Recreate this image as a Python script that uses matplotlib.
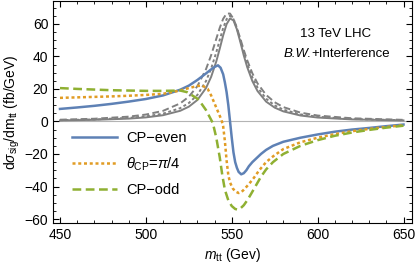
import matplotlib
matplotlib.use("Agg")
import matplotlib.pyplot as plt
from matplotlib.ticker import MultipleLocator

plt.rcParams['font.family'] = ['Liberation Sans', 'DejaVu Sans']
plt.rcParams['mathtext.fontset'] = 'custom'
plt.rcParams['mathtext.rm'] = 'Liberation Sans'
plt.rcParams['mathtext.it'] = 'Liberation Sans:italic'
plt.rcParams['mathtext.bf'] = 'Liberation Sans:bold'

# ---- data ----
m_even = [450, 460, 470, 480, 490, 500, 510, 520, 525, 530, 535, 538, 540, 542,
          543.5, 545, 546, 547, 548, 549, 550, 551, 552, 553, 554, 555.5, 557,
          558.5, 560, 562, 564.5, 567, 570, 574, 580, 590, 600, 610, 620, 630, 640, 650]
y_even = [7.7, 8.6, 9.6, 10.8, 12.2, 13.8, 16, 19.5, 22, 25.5, 29.5, 32, 33.5, 34.5,
          33, 29, 24, 18, 10, 0, -10, -19, -25, -28.5, -31, -32.5, -31.8,
          -30, -27.5, -25, -22.5, -20, -17.5, -15, -12.5, -10, -8, -6.3, -5, -4, -2.9, -1.9]

m_mix = [450, 460, 470, 480, 490, 500, 510, 520, 525, 530, 533, 536, 538, 540, 542,
         544, 545, 546, 547, 548, 549, 550.5, 552, 554, 555.5, 557, 560, 563, 566,
         570, 574, 580, 590, 600, 610, 620, 630, 640, 650]
y_mix = [14.5, 14.8, 15.1, 15.4, 15.8, 16.3, 17, 19, 20.5, 21.8, 22, 20, 16, 11, 6,
         1, -3, -12, -24, -33, -37.5, -41, -43, -44, -43.5, -42, -38.5, -34.5, -30,
         -25, -21.5, -17, -12.8, -10, -7.8, -6, -4.6, -3.4, -2.3]

m_odd = [450, 460, 470, 480, 490, 500, 510, 520, 524, 527, 530, 532, 535, 537, 539,
         541, 543, 544.5, 546, 548, 550, 552, 553.5, 555, 557, 559, 561, 564, 567,
         570, 574, 580, 590, 600, 610, 620, 630, 640, 650]
y_odd = [20.5, 20, 19.6, 19.2, 19, 18.8, 18.8, 19, 18, 16, 14, 11.5, 7, 3, -1,
         -10, -22, -33, -42, -48.5, -52, -53.8, -54.2, -53.5, -51.5, -48.5, -45, -39.5, -34,
         -29.5, -25, -20, -15, -11.5, -8.8, -6.8, -5.2, -3.8, -2.6]

m_bw = [450, 470, 490, 500, 510, 520, 525, 530, 535, 538, 541, 543, 545, 547, 549,
        551, 553, 555, 557, 559, 562, 565, 570, 575, 580, 590, 600, 620, 650]
bw_even = [0.64, 0.99, 1.74, 2.49, 3.83, 6.55, 9.07, 13.2, 20.5, 27.4, 36.9, 44.7, 52.9, 59.8, 63.3,
           62.1, 56.6, 48.8, 40.6, 33.4, 24.8, 18.7, 12.2, 8.5, 6.2, 3.65, 2.4, 1.25, 0.62]
bw_mix = [0.79, 1.24, 2.18, 3.12, 4.78, 8.18, 11.3, 16.3, 24.8, 32.5, 42.5, 50.1, 57.4, 62.9, 65,
          62.9, 57.4, 50.1, 42.5, 35.6, 27.1, 20.9, 14.0, 9.87, 7.27, 4.36, 2.89, 1.52, 0.76]
bw_odd = [1.07, 1.67, 2.96, 4.24, 6.51, 11.1, 15.2, 21.7, 32.1, 40.7, 50.8, 57.5, 63.1, 66.3, 66.3,
          63.1, 57.5, 50.8, 43.9, 37.6, 29.6, 23.4, 16.3, 11.8, 8.83, 5.42, 3.64, 1.95, 0.99]

labels = ["CP\u2212even", r"$\theta_{\rm CP}$=$\pi$/4", "CP\u2212odd"]

c_blue = '#5E81B5'
c_orange = '#E19C24'
c_green = '#8FB032'
c_gray = '#808080'

fig = plt.figure(figsize=(4.15, 2.65), dpi=100)
ax = fig.add_axes([0.128, 0.158, 0.865, 0.838])

ax.axhline(0, color='#b4b4b4', lw=0.8, zorder=1)

ax.plot(m_bw, bw_even, color=c_gray, lw=1.4, zorder=2)
ax.plot(m_bw, bw_mix, color=c_gray, lw=1.4, ls=(0, (1.5, 1.3)), zorder=2)
ax.plot(m_bw, bw_odd, color=c_gray, lw=1.4, ls=(0, (3.5, 1.8)), zorder=2)

ax.plot(m_even, y_even, color=c_blue, lw=1.8, label=labels[0], zorder=3)
ax.plot(m_mix, y_mix, color=c_orange, lw=1.8, ls=(0, (1.2, 1.1)), label=labels[1], zorder=3)
ax.plot(m_odd, y_odd, color=c_green, lw=1.8, ls=(0, (3.5, 1.8)), label=labels[2], zorder=3)

ax.set_xlim(446, 655)
ax.set_ylim(-62.5, 74)
ax.xaxis.set_major_locator(MultipleLocator(50))
ax.xaxis.set_minor_locator(MultipleLocator(10))
ax.yaxis.set_major_locator(MultipleLocator(20))
ax.yaxis.set_minor_locator(MultipleLocator(5))
ax.tick_params(which='both', direction='in', top=True, right=True, labelsize=10, colors='black')
ax.tick_params(which='major', length=4, width=0.8)
ax.tick_params(which='minor', length=2, width=0.6)
for s in ax.spines.values():
    s.set_linewidth(0.8)
    s.set_color('black')
ax.set_yticks([-60, -40, -20, 0, 20, 40, 60])
ax.set_yticklabels(['\u221260', '\u221240', '\u221220', '0', '20', '40', '60'])

ax.set_xlabel(r'$m_{\rm tt}$ (Gev)', fontsize=10, labelpad=3)
ax.set_ylabel(r'd$\sigma_{\rm sig}$/dm$_{\rm tt}$ (fb/GeV)', fontsize=10, labelpad=2)

ax.text(610.5, 54, '13 TeV LHC', fontsize=9.5, ha='center', va='center')
t1 = ax.text(580.0, 41.6, 'B.W.', fontsize=9.5, fontstyle='italic', ha='left', va='center')
ax.annotate('+Interference', xy=(1, 0.5), xycoords=t1, fontsize=9.5, ha='left', va='center')

leg = ax.legend(loc='upper left', bbox_to_anchor=(0.037, 0.44), frameon=False, fontsize=10.5,
                handlelength=3.1, labelspacing=0.7, handletextpad=0.6, borderaxespad=0.0)

fig.savefig('out.png', dpi=100)
